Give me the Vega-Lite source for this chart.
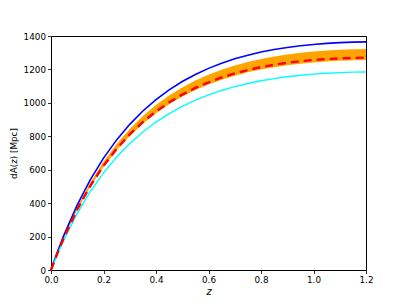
{
  "$schema": "https://vega.github.io/schema/vega-lite/v6.json",
  "width": 315,
  "height": 234,
  "autosize": "none",
  "padding": {"left": 51, "top": 36, "right": 41, "bottom": 35},
  "background": "white",
  "config": {
    "view": {"stroke": "black", "strokeWidth": 1},
    "axis": {
      "grid": false,
      "domain": false,
      "tickColor": "black",
      "tickSize": 3.5,
      "tickWidth": 0.8,
      "labelFont": "DejaVu Sans",
      "labelFontSize": 8.8,
      "labelColor": "black",
      "labelFlush": false,
      "labelOverlap": false,
      "titleFont": "DejaVu Sans",
      "titleFontSize": 8.8,
      "titleFontWeight": "normal",
      "titleColor": "black",
      "labelPadding": 2
    }
  },
  "data": {"values": [
    {"z": 0, "blue": 0, "hi": 0, "lo": 0, "red": 0, "cyan": 0},
    {"z": 0.025, "blue": 110.3, "hi": 106.9, "lo": 101.5, "red": 102.7, "cyan": 95.8},
    {"z": 0.05, "blue": 211.5, "hi": 204.9, "lo": 194.6, "red": 196.9, "cyan": 183.7},
    {"z": 0.1, "blue": 389.9, "hi": 377.6, "lo": 358.8, "red": 363.0, "cyan": 338.5},
    {"z": 0.15, "blue": 540.9, "hi": 523.9, "lo": 497.7, "red": 503.6, "cyan": 469.7},
    {"z": 0.2, "blue": 669.2, "hi": 648.1, "lo": 615.7, "red": 623.0, "cyan": 581.0},
    {"z": 0.25, "blue": 778.4, "hi": 753.9, "lo": 716.2, "red": 724.7, "cyan": 675.8},
    {"z": 0.3, "blue": 871.6, "hi": 844.1, "lo": 802.0, "red": 811.4, "cyan": 756.8},
    {"z": 0.35, "blue": 951.2, "hi": 921.3, "lo": 875.2, "red": 885.6, "cyan": 825.9},
    {"z": 0.4, "blue": 1019.3, "hi": 987.3, "lo": 937.9, "red": 949.0, "cyan": 885.1},
    {"z": 0.45, "blue": 1077.6, "hi": 1043.7, "lo": 991.5, "red": 1003.2, "cyan": 935.7},
    {"z": 0.5, "blue": 1127.4, "hi": 1092.0, "lo": 1037.4, "red": 1049.6, "cyan": 978.9},
    {"z": 0.55, "blue": 1170.0, "hi": 1133.2, "lo": 1076.6, "red": 1089.3, "cyan": 1015.9},
    {"z": 0.6, "blue": 1206.3, "hi": 1168.4, "lo": 1110.0, "red": 1123.1, "cyan": 1047.4},
    {"z": 0.65, "blue": 1237.2, "hi": 1198.3, "lo": 1138.4, "red": 1151.8, "cyan": 1074.2},
    {"z": 0.7, "blue": 1263.3, "hi": 1223.6, "lo": 1162.4, "red": 1176.1, "cyan": 1096.9},
    {"z": 0.75, "blue": 1285.4, "hi": 1244.9, "lo": 1182.7, "red": 1196.6, "cyan": 1116.0},
    {"z": 0.8, "blue": 1303.8, "hi": 1262.8, "lo": 1199.7, "red": 1213.8, "cyan": 1132.0},
    {"z": 0.85, "blue": 1319.1, "hi": 1277.5, "lo": 1213.7, "red": 1228.0, "cyan": 1145.3},
    {"z": 0.9, "blue": 1331.6, "hi": 1289.7, "lo": 1225.2, "red": 1239.7, "cyan": 1156.2},
    {"z": 0.95, "blue": 1341.7, "hi": 1299.5, "lo": 1234.5, "red": 1249.1, "cyan": 1164.9},
    {"z": 1.0, "blue": 1349.6, "hi": 1307.2, "lo": 1241.9, "red": 1256.5, "cyan": 1171.9},
    {"z": 1.05, "blue": 1355.7, "hi": 1313.1, "lo": 1247.5, "red": 1262.2, "cyan": 1177.2},
    {"z": 1.1, "blue": 1360.2, "hi": 1317.4, "lo": 1251.5, "red": 1266.3, "cyan": 1181.0},
    {"z": 1.15, "blue": 1363.1, "hi": 1320.2, "lo": 1254.3, "red": 1269.1, "cyan": 1183.6},
    {"z": 1.2, "blue": 1364.8, "hi": 1321.9, "lo": 1255.8, "red": 1270.6, "cyan": 1185.0}
  ]},
  "encoding": {
    "x": {
      "field": "z", "type": "quantitative",
      "scale": {"domain": [0, 1.2], "nice": false, "zero": false},
      "axis": {"values": [0, 0.2, 0.4, 0.6, 0.8, 1.0, 1.2], "format": ".1f", "title": "z", "titleFontStyle": "italic", "titlePadding": 2, "titleFontSize": 10}
    }
  },
  "layer": [
    {
      "mark": {"type": "area", "color": "#FFA500", "opacity": 1},
      "encoding": {
        "y": {"field": "lo", "type": "quantitative",
          "scale": {"domain": [0, 1400], "nice": false},
          "axis": {"values": [0, 200, 400, 600, 800, 1000, 1200, 1400], "format": "d", "labelOverlap": false, "title": "dA(z) [Mpc]", "titlePadding": 5}},
        "y2": {"field": "hi"}
      }
    },
    {
      "mark": {"type": "line", "color": "#0000FF", "strokeWidth": 1.6},
      "encoding": {"y": {"field": "blue", "type": "quantitative",
          "scale": {"domain": [0, 1400], "nice": false},
          "axis": {"values": [0, 200, 400, 600, 800, 1000, 1200, 1400], "format": "d", "labelOverlap": false, "title": "dA(z) [Mpc]", "titlePadding": 5}}}
    },
    {
      "mark": {"type": "line", "color": "#00FFFF", "strokeWidth": 1.4},
      "encoding": {"y": {"field": "cyan", "type": "quantitative",
          "scale": {"domain": [0, 1400], "nice": false},
          "axis": {"values": [0, 200, 400, 600, 800, 1000, 1200, 1400], "format": "d", "labelOverlap": false, "title": "dA(z) [Mpc]", "titlePadding": 5}}}
    },
    {
      "mark": {"type": "line", "color": "#FF0000", "strokeWidth": 2.4, "strokeDash": [8, 5]},
      "encoding": {"y": {"field": "red", "type": "quantitative",
          "scale": {"domain": [0, 1400], "nice": false},
          "axis": {"values": [0, 200, 400, 600, 800, 1000, 1200, 1400], "format": "d", "labelOverlap": false, "title": "dA(z) [Mpc]", "titlePadding": 5}}}
    }
  ]
}
